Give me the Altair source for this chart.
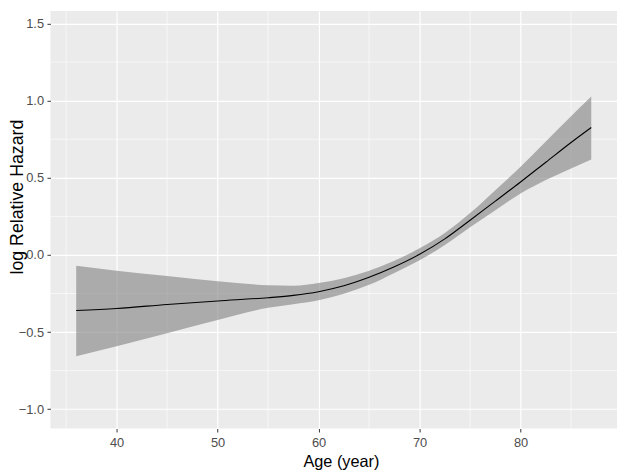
import altair as alt
import pandas as pd

# Values
ages = [36, 40, 45, 50, 55, 57.5, 60, 62.5, 65, 67.5, 70, 72.5, 75, 77.5, 80, 82.5, 85, 87]
fit = [-0.360, -0.347, -0.321, -0.298, -0.277, -0.262, -0.238, -0.200, -0.145, -0.077,
       0.004, 0.104, 0.225, 0.349, 0.473, 0.601, 0.729, 0.826]
upper = [-0.070, -0.102, -0.136, -0.170, -0.196, -0.199, -0.182, -0.151, -0.102, -0.038,
         0.043, 0.142, 0.271, 0.420, 0.572, 0.735, 0.899, 1.027]
lower = [-0.656, -0.592, -0.507, -0.422, -0.343, -0.320, -0.294, -0.252, -0.194, -0.117,
         -0.034, 0.064, 0.180, 0.290, 0.398, 0.485, 0.560, 0.618]

x_major = [40, 50, 60, 70, 80]
x_minor = [35, 45, 55, 65, 75, 85]
y_major = [-1.0, -0.5, 0.0, 0.5, 1.0, 1.5]
y_minor = [-0.75, -0.25, 0.25, 0.75, 1.25]

df = pd.DataFrame({"age": ages, "fit": fit, "upper": upper, "lower": lower})
xm = pd.DataFrame({"v": x_minor})
ym = pd.DataFrame({"v": y_minor})

FONT = "Liberation Sans"
xscale = alt.Scale(domain=[33.45, 89.55], nice=False, zero=False)
yscale = alt.Scale(domain=[-1.125, 1.581], nice=False, zero=False)

xaxis = alt.Axis(values=x_major, title="Age (year)", grid=True, gridColor="white", gridWidth=1.2,
                 domain=False, tickColor="#333333", tickWidth=1, tickSize=3.5, labelPadding=4.5,
                 labelFont=FONT, labelFontSize=13, labelColor="#4D4D4D",
                 titleFont=FONT, titleFontSize=16.5, titleFontWeight="normal", titleColor="black",
                 titleX=294.3, titleY=25, titleBaseline="top", titleAlign="center",
                 labelFlush=False)
yaxis = alt.Axis(values=y_major, format=".1f", title="log Relative Hazard", grid=True,
                 gridColor="white", gridWidth=1.2,
                 domain=False, tickColor="#333333", tickWidth=1, tickSize=3.5, labelPadding=3.5,
                 labelFont=FONT, labelFontSize=13, labelColor="#4D4D4D",
                 titleFont=FONT, titleFontSize=18, titleFontWeight="normal", titleColor="black",
                 titleAngle=270, titleX=-42, titleY=188, titleBaseline="top", titleAlign="center",
                 labelFlush=False)

minor_x = alt.Chart(xm).mark_rule(color="white", strokeWidth=0.6).encode(
    x=alt.X("v:Q", scale=xscale, axis=xaxis))
minor_y = alt.Chart(ym).mark_rule(color="white", strokeWidth=0.6).encode(
    y=alt.Y("v:Q", scale=yscale, axis=yaxis))

band = alt.Chart(df).mark_area(color="#808080", opacity=0.6, interpolate="monotone").encode(
    x=alt.X("age:Q", scale=xscale, axis=xaxis),
    y=alt.Y("lower:Q", scale=yscale, axis=yaxis),
    y2="upper:Q")

line = alt.Chart(df).mark_line(color="black", strokeWidth=1.1, interpolate="monotone").encode(
    x=alt.X("age:Q", scale=xscale, axis=xaxis),
    y=alt.Y("fit:Q", scale=yscale, axis=yaxis))

chart = alt.layer(minor_x, minor_y, band, line).properties(
    width=574, height=423,
    autosize=alt.AutoSizeParams(type="none"),
    padding={"left": 43, "top": 0, "right": 2, "bottom": 40},
).configure(background="white").configure_view(fill="#EBEBEB", stroke=None)

chart.save("out.html", embed_options={"renderer": "svg", "actions": False})
